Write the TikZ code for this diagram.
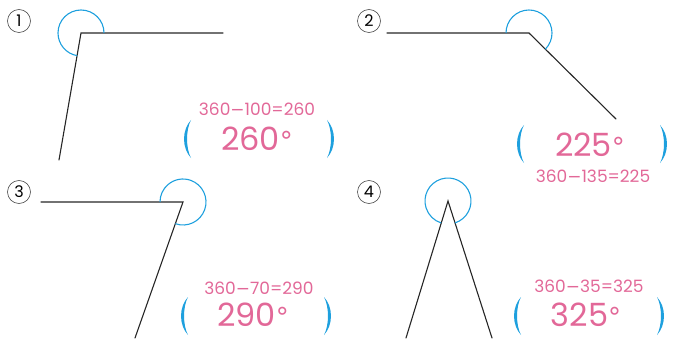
\documentclass[tikz,border=0pt]{standalone}
\usepackage{fontspec}
\setmainfont{Poppins}
\newfontfamily\djv{DejaVu Sans}
\newcommand\mns{{\djv −}}
\newcommand\dgr{{\djv\fontsize{26}{26}\selectfont °}}
\definecolor{pinkc}{RGB}{226,104,152}
\definecolor{bluec}{RGB}{30,160,222}
\begin{document}
\begin{tikzpicture}[x=1pt,y=1pt,
  ray/.style={line width=1.1pt,black!85,line cap=round},
  anglearc/.style={bluec,line width=1.1pt},
  calc/.style={pinkc,font=\fontsize{17}{17}\selectfont,inner sep=0pt},
  answer/.style={pinkc,font=\fontsize{32}{32}\selectfont,inner sep=0pt},
  numc/.style={draw=black!70,line width=0.6pt,circle,minimum size=23pt,inner sep=0pt,font=\fontsize{16}{16}\selectfont},
  paren pair/.pic={
    \fill[bluec] (-68,19) .. controls (-77.3,9) and (-77.3,-9) .. (-68,-19)
       .. controls (-73.3,-9) and (-73.3,9) .. (-68,19) -- cycle;
    \fill[bluec] (68,19) .. controls (77.3,9) and (77.3,-9) .. (68,-19)
       .. controls (73.3,-9) and (73.3,9) .. (68,19) -- cycle;
  }]
\useasboundingbox (0,0) rectangle (680,338);

% panel 1
\node[numc] (n1) at (19,317) {1};
\coordinate (v1) at (81,305);
\coordinate (h1) at (223,305);
\coordinate (l1) at (59,178);
\draw[ray] (h1) -- (v1) -- (l1);
\draw[anglearc] (v1) ++(0:23) arc[start angle=0,end angle=260.17,radius=23];
\node[calc] (c1) at (257,229) {360\mns100=260};
\node[answer] (a1) at (257,199) {260\dgr};
\pic at (259,199) {paren pair};

% panel 2
\node[numc] (n2) at (369,317) {2};
\coordinate (v2) at (529,305);
\coordinate (h2) at (387,305);
\coordinate (l2) at (616,219);
\draw[ray] (h2) -- (v2) -- (l2);
\draw[anglearc] (v2) ++(-44.67:23) arc[start angle=-44.67,end angle=180,radius=23];
\node[answer] (a2) at (590,193) {225\dgr};
\node[calc] (c2) at (593,162) {360\mns135=225};
\pic at (592,194) {paren pair};

% panel 3
\node[numc] (n3) at (19,146) {3};
\coordinate (v3) at (183,136);
\coordinate (h3) at (41,136);
\coordinate (l3) at (135,0);
\draw[ray] (h3) -- (v3) -- (l3);
\draw[anglearc] (v3) ++(-109.44:23) arc[start angle=-109.44,end angle=180,radius=23];
\node[calc] (c3) at (259,50) {360\mns70=290};
\node[answer] (a3) at (253,23) {290\dgr};
\pic at (256,22) {paren pair};

% panel 4
\node[numc] (n4) at (369,146) {4};
\coordinate (v4) at (448,137);
\coordinate (l4) at (406,0);
\coordinate (r4) at (492,0);
\draw[ray] (l4) -- (v4) -- (r4);
\draw[anglearc] (v4) ++(-72.19:23) arc[start angle=-72.19,end angle=252.96,radius=23];
\node[calc] (c4) at (589,52) {360\mns35=325};
\node[answer] (a4) at (586,23) {325\dgr};
\pic at (589,22) {paren pair};
\end{tikzpicture}
\end{document}
